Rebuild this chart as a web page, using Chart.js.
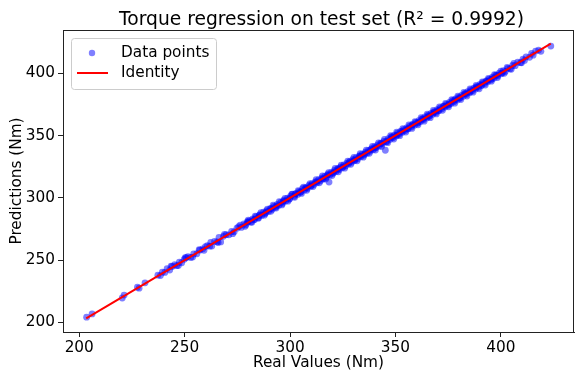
<!DOCTYPE html>
<html>
<head>
<meta charset="utf-8">
<script src="https://cdn.jsdelivr.net/npm/chart.js@4.4.1/dist/chart.umd.min.js"></script>
<style>
  html, body { margin: 0; padding: 0; background: #fff; }
  #wrap { width: 578px; height: 374px; }
</style>
</head>
<body>
<div id="wrap"><canvas id="torque-chart" width="578" height="374"></canvas></div>
<script>
// 测试集真实值 / 预测值 (Nm)
const realValues = [
  203.5, 206.1, 220.4, 221.3, 227.6, 228.4, 231.2, 237.3, 238.5, 239.4,
  240.6, 241.7, 242.9, 244.1, 245.3, 246.2, 247.5, 248.6, 249.8, 250.7,
  251.6, 252.9, 254.3, 255.8, 257.2, 258.6, 259.9, 260.8, 261.9, 262.9,
  264.2, 265.4, 266.3, 267.1, 268.4, 269.7, 271.0, 272.3, 273.5, 274.8,
  275.6, 276.9, 278.1, 279.0, 279.8, 280.7, 281.5, 282.3, 283.2, 284.0,
  284.9, 285.7, 286.6, 287.4, 288.1, 288.9, 289.8, 290.6, 291.5, 292.3,
  293.0, 293.9, 294.7, 295.6, 296.4, 297.1, 297.9, 298.8, 299.6, 300.3,
  301.1, 301.9, 302.8, 303.6, 304.3, 305.1, 305.9, 306.7, 307.4, 308.2,
  309.0, 309.8, 310.5, 311.3, 312.0, 312.8, 313.6, 314.3, 315.1, 315.8,
  316.6, 317.3, 318.1, 318.5, 318.8, 319.6, 320.3, 321.1, 321.8, 322.6,
  323.3, 324.0, 324.8, 325.5, 326.3, 327.0, 327.7, 328.5, 329.2, 329.9,
  330.7, 331.4, 332.1, 332.9, 333.6, 334.3, 335.0, 335.8, 336.5, 337.2,
  337.9, 338.7, 339.4, 340.1, 340.8, 341.6, 342.3, 343.0, 343.7, 344.5,
  345.2, 345.9, 346.6, 347.4, 348.1, 348.8, 349.5, 350.3, 351.0, 351.7,
  352.4, 353.2, 353.9, 354.6, 355.3, 356.1, 356.8, 357.5, 358.2, 359.0,
  359.7, 360.4, 361.1, 361.9, 362.6, 363.3, 364.0, 364.8, 365.5, 366.2,
  366.9, 367.7, 368.4, 369.1, 369.8, 370.6, 371.3, 372.0, 372.7, 373.5,
  374.2, 374.9, 375.6, 376.4, 377.1, 377.8, 378.5, 379.3, 380.0, 380.7,
  381.4, 382.2, 382.9, 383.6, 384.3, 385.1, 385.8, 386.5, 387.2, 388.0,
  388.7, 389.4, 390.1, 390.9, 391.6, 392.3, 393.0, 393.8, 394.5, 395.2,
  396.0, 396.8, 397.6, 398.5, 399.3, 400.2, 401.2, 402.1, 403.3, 404.4,
  405.6, 406.8, 408.0, 409.3, 410.5, 412.0, 413.6, 415.3, 416.5, 417.9,
  423.7,
  276.4, 278.7, 280.2, 281.9, 283.5, 285.0, 286.2, 287.8, 289.3, 290.9,
  292.0, 293.4, 294.9, 296.1, 297.6, 299.0, 300.8, 302.2, 303.9, 305.4,
  306.4, 307.9, 309.5, 310.9, 312.4, 313.9, 315.4, 316.9, 318.3, 319.9,
  321.4, 322.9, 324.3, 325.9, 327.4, 328.8, 330.3, 331.8, 333.3, 334.7,
  336.2, 337.6, 339.1, 340.5, 342.0, 343.4, 344.8, 346.3, 347.7, 349.2,
  350.6, 352.0, 353.5, 354.9, 356.4, 357.8, 359.3, 360.7, 362.2, 363.6,
  365.1, 366.5, 368.0, 369.4, 370.9, 372.3, 373.8, 375.2, 376.7, 378.1,
  379.6, 381.0, 382.5, 383.9, 385.4, 386.8, 388.3, 389.7, 391.2, 392.6,
  394.1, 395.5, 397.0, 398.4, 400.0, 401.6, 403.0, 404.9,
  280.0, 282.8, 285.4, 288.6, 291.1, 293.6, 296.8, 299.9, 302.4, 304.9,
  307.7, 310.0, 312.6, 315.5, 317.7, 320.7, 323.0, 325.2, 328.1, 330.5,
  333.1, 335.5, 338.3, 340.4, 343.3, 345.6, 348.3, 350.8, 353.0, 355.7,
  358.0, 360.9, 363.0, 365.7, 368.2, 370.3, 373.1, 375.4, 378.0, 380.4,
  383.2, 385.5, 388.2, 390.6, 393.3, 395.8, 398.1, 400.6,
  243.6, 247.0, 250.3, 253.8, 256.9, 259.2, 262.4, 265.9, 268.9, 272.8,
  406.2, 409.8, 411.2, 414.6, 419.0
];
const predictions = [
  204.2, 206.8, 219.6, 221.9, 228.3, 227.5, 231.8, 237.9, 237.6, 240.3,
  240.1, 243.2, 242.0, 244.9, 246.4, 245.5, 248.3, 247.9, 250.6, 251.9,
  252.8, 252.1, 254.9, 255.1, 258.0, 259.1, 260.9, 261.7, 261.2, 261.3,
  265.0, 264.7, 268.2, 264.6, 269.1, 270.4, 270.3, 273.0, 272.7, 275.6,
  276.8, 276.2, 279.0, 278.4, 280.9, 281.5, 280.6, 283.1, 282.5, 284.9,
  284.1, 286.4, 285.8, 288.5, 287.3, 289.8, 289.1, 291.3, 290.7, 293.2,
  292.4, 294.8, 294.0, 296.3, 295.5, 298.2, 297.4, 299.7, 298.8, 301.4,
  302.9, 301.2, 303.5, 302.7, 305.2, 304.6, 307.3, 306.1, 308.2, 307.5,
  309.9, 309.2, 311.4, 310.6, 312.8, 312.1, 314.5, 313.6, 316.0, 315.2,
  317.3, 316.5, 319.0, 312.6, 318.2, 320.4, 319.5, 322.0, 321.2, 323.5,
  322.6, 324.9, 324.1, 326.4, 325.6, 327.8, 327.1, 329.4, 328.6, 330.8,
  330.0, 332.2, 331.3, 333.7, 333.0, 335.1, 334.2, 336.7, 335.8, 338.1,
  337.3, 339.5, 338.6, 341.0, 340.3, 342.4, 341.5, 343.9, 343.1, 345.3,
  338.2, 345.1, 347.5, 346.8, 349.0, 348.2, 350.4, 349.6, 351.9, 351.0,
  353.3, 352.5, 354.7, 354.0, 356.2, 355.4, 357.6, 356.9, 359.1, 358.3,
  360.6, 359.8, 362.0, 361.2, 363.4, 362.7, 364.9, 364.1, 366.3, 365.6,
  367.8, 367.0, 369.2, 368.5, 370.7, 369.9, 372.1, 371.4, 373.6, 372.8,
  375.0, 374.3, 376.5, 375.7, 377.9, 377.2, 379.4, 378.6, 380.8, 380.1,
  382.3, 381.5, 383.7, 383.0, 385.2, 384.4, 386.6, 385.9, 388.1, 387.3,
  389.5, 388.8, 391.0, 390.2, 392.4, 391.7, 393.9, 393.1, 395.3, 394.6,
  396.8, 396.1, 398.5, 397.8, 400.1, 399.5, 402.0, 401.4, 403.9, 403.6,
  406.3, 406.1, 408.9, 408.5, 411.4, 413.2, 412.8, 414.5, 417.8, 418.6,
  421.8,
  278.0, 277.1, 282.1, 280.3, 285.2, 283.6, 288.0, 286.1, 291.0, 289.2,
  294.1, 291.8, 296.9, 294.3, 299.5, 297.3, 302.7, 300.4, 305.8, 303.5,
  308.6, 306.0, 311.3, 309.0, 314.6, 312.0, 317.5, 315.1, 320.2, 317.9,
  323.6, 320.9, 326.3, 323.8, 329.5, 326.9, 332.5, 329.7, 335.4, 332.6,
  338.2, 335.7, 341.3, 338.4, 344.0, 341.2, 346.9, 344.3, 349.9, 347.2,
  352.7, 349.9, 355.6, 352.8, 358.5, 355.7, 361.2, 358.6, 364.4, 361.5,
  367.2, 364.3, 370.1, 367.3, 373.0, 370.2, 375.7, 373.0, 378.8, 376.0,
  381.6, 378.9, 384.6, 381.7, 387.4, 384.8, 390.3, 387.5, 393.1, 390.5,
  395.9, 393.6, 398.8, 396.5, 401.7, 399.9, 404.6, 403.2,
  280.3, 282.4, 285.9, 288.2, 291.6, 293.3, 297.1, 299.5, 302.9, 304.5,
  308.0, 309.6, 313.0, 315.1, 318.1, 320.3, 323.4, 324.9, 328.5, 330.1,
  333.5, 335.1, 338.7, 340.0, 343.6, 345.2, 348.7, 350.4, 353.4, 355.3,
  358.4, 360.5, 363.4, 365.3, 368.6, 369.9, 373.5, 375.0, 378.4, 380.0,
  383.6, 385.1, 388.6, 390.2, 393.7, 395.4, 398.5, 400.2,
  245.1, 245.6, 252.0, 252.4, 258.4, 257.9, 264.3, 264.1, 270.6, 271.2,
  407.8, 408.4, 410.3, 415.9, 417.6
];
// 恒等线端点
const identityRange = [203.3, 423.7];
const axisRange = [192.3, 434.7];
const tickStep = 50;

const FONT = 'DejaVu Sans';

const scatterData = realValues.map((v, i) => ({ x: v, y: predictions[i] }));
const identityData = identityRange.map(v => ({ x: v, y: v }));

// 标题 + 外框 + 图例
const framePlugin = {
    id: 'frame',
    afterDraw(chart) {
        const { ctx, chartArea: a } = chart;
        ctx.save();
        // 四边边框
        ctx.strokeStyle = '#222';
        ctx.lineWidth = 1;
        ctx.strokeRect(a.left + 0.5, a.top + 0.5, a.right - a.left - 1, a.bottom - a.top);

        // 标题
        ctx.fillStyle = '#000';
        ctx.font = '18.7px "' + FONT + '"';
        ctx.textAlign = 'center';
        ctx.textBaseline = 'alphabetic';
        ctx.fillText('Torque regression on test set (R² = 0.9992)', (a.left + a.right) / 2 + 3, 25);

        // 图例
        const lx = a.left + 8, ly = a.top + 8, lw = 145, lh = 51;
        ctx.beginPath();
        ctx.roundRect(lx + 0.5, ly + 0.5, lw, lh, 3);
        ctx.fillStyle = 'rgba(255,255,255,0.8)';
        ctx.fill();
        ctx.strokeStyle = '#cccccc';
        ctx.stroke();

        ctx.fillStyle = 'rgba(0,0,255,0.5)';
        ctx.beginPath();
        ctx.arc(lx + 21, ly + 15, 3.2, 0, Math.PI * 2);
        ctx.fill();

        ctx.strokeStyle = 'red';
        ctx.lineWidth = 2;
        ctx.beginPath();
        ctx.moveTo(lx + 6, ly + 35);
        ctx.lineTo(lx + 37, ly + 35);
        ctx.stroke();

        ctx.fillStyle = '#000';
        ctx.font = '15.3px "' + FONT + '"';
        ctx.textAlign = 'left';
        ctx.textBaseline = 'middle';
        ctx.fillText('Data points', lx + 50, ly + 15);
        ctx.fillText('Identity', lx + 50, ly + 35);
        ctx.restore();
    }
};

const tickFont = { family: FONT, size: 15.3 };

const canvas = document.getElementById('torque-chart');
if (canvas) {
    new Chart(canvas.getContext('2d'), {
        type: 'scatter',
        data: {
            datasets: [
                {
                    label: 'Data points',
                    data: scatterData,
                    backgroundColor: 'rgba(0, 0, 255, 0.5)',
                    borderWidth: 0,
                    pointRadius: 3.4,
                    order: 1
                },
                {
                    label: 'Identity',
                    type: 'line',
                    data: identityData,
                    borderColor: 'red',
                    borderWidth: 2,
                    pointRadius: 0,
                    fill: false,
                    order: 0
                }
            ]
        },
        options: {
            responsive: false,
            animation: false,
            layout: { padding: { top: 30, right: 0, bottom: 0, left: 0 } },
            plugins: {
                legend: { display: false },
                title: { display: false },
                tooltip: { enabled: false }
            },
            scales: {
                x: {
                    type: 'linear',
                    min: axisRange[0],
                    max: axisRange[1],
                    afterFit: s => { s.height = 42; },
                    ticks: {
                        stepSize: tickStep,
                        includeBounds: false,
                        color: '#000',
                        font: tickFont,
                        padding: 2,
                        maxRotation: 0
                    },
                    grid: { drawOnChartArea: false, tickLength: 5, color: '#222' },
                    border: { color: '#222' },
                    title: {
                        display: true,
                        text: 'Real Values (Nm)',
                        color: '#000',
                        font: tickFont,
                        padding: { top: 0, bottom: 2 }
                    }
                },
                y: {
                    type: 'linear',
                    min: axisRange[0],
                    max: axisRange[1],
                    afterFit: s => { s.width = 63; },
                    ticks: {
                        stepSize: tickStep,
                        includeBounds: false,
                        color: '#000',
                        font: tickFont,
                        padding: 3
                    },
                    grid: { drawOnChartArea: false, tickLength: 5, color: '#222' },
                    border: { color: '#222' },
                    title: {
                        display: true,
                        text: 'Predictions (Nm)',
                        color: '#000',
                        font: tickFont,
                        padding: { top: 8, bottom: 0 }
                    }
                }
            }
        },
        plugins: [framePlugin]
    });
}
</script>
</body>
</html>
